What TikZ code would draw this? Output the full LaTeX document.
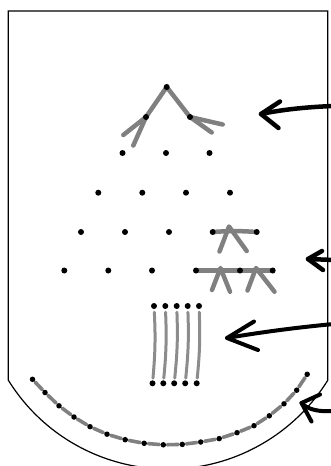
\documentclass[tikz,border=0pt]{standalone}
\usetikzlibrary{backgrounds}
\definecolor{sketchgray}{RGB}{128,128,128}
\definecolor{lightgray2}{RGB}{140,140,140}
\begin{document}
\begin{tikzpicture}[x=1pt,y=-1pt,
  dot/.style={circle,fill=black,inner sep=0pt,minimum size=6pt},
  stroke/.style={draw=sketchgray,line width=4.5pt,line cap=round,line join=round},
  thinstroke/.style={draw=lightgray2,line width=3pt,line cap=round},
  pointer/.style={draw=black,line width=4.5pt,line cap=round,line join=round},
  outline/.style={draw=black,line width=1.2pt}]
\useasboundingbox (0,0) rectangle (330,466);
% outline
\draw[outline] (327.8,380) -- (327.8,11) -- (8.2,11) -- (8.2,380)
  arc[start angle=148.25, end angle=31.75, radius=188];
% triangle of dots
\node[dot] (a1) at (166.7,87) {};
\node[dot] (b1) at (146,117) {};
\node[dot] (b2) at (190,117) {};
\node[dot] (c1) at (122.5,153) {};
\node[dot] (c2) at (166,153) {};
\node[dot] (c3) at (209.5,153) {};
\node[dot] (d1) at (98.3,192.7) {};
\node[dot] (d2) at (142.3,192.7) {};
\node[dot] (d3) at (186,192.7) {};
\node[dot] (d4) at (230,192.7) {};
\node[dot] (e1) at (81,232) {};
\node[dot] (e2) at (125,232) {};
\node[dot] (e3) at (169,232) {};
\node[dot] (e4) at (212.7,232) {};
\node[dot] (e5) at (256.7,232) {};
\node[dot] (f1) at (64.3,270.5) {};
\node[dot] (f2) at (108.3,270.5) {};
\node[dot] (f3) at (152,270.5) {};
\node[dot] (f4) at (196,270.5) {};
\node[dot] (f5) at (240,270.5) {};
\node[dot] (f6) at (272.7,270.5) {};
% columns
\foreach \x [count=\i] in {154,165.3,176.7,187.7,199}
  \node[dot] (t\i) at (\x,306) {};
\foreach \x [count=\i] in {152.5,163.3,174.2,185.2,196.7}
  \node[dot] (u\i) at (\x,383.3) {};
% arc dots
\foreach \p [count=\i] in {(32.5,379.3),(45,392.5),(59,405.8),(74,417),(90,426.7),(107,434.2),(125.2,439.7),(144.2,443.3),(163.3,444.8),(182.3,444.4),(200.7,442),(219.2,438.6),(237,432.7),(254,425.7),(269.3,415.8),(284,403.8),(296.7,390.2),(307.2,374.3)}
  \node[dot,minimum size=5.5pt] (r\i) at \p {};
% free ends of sketch strokes
\coordinate (tl1) at (123.3,135);
\coordinate (tl2) at (133.3,145.5);
\coordinate (tr1) at (222.7,124.5);
\coordinate (tr2) at (211.7,132.5);
\coordinate (m1apex) at (229,226.5);
\coordinate (m1l) at (219.5,251.5);
\coordinate (m1r) at (246.7,251);
\coordinate (n1apex) at (220.5,268);
\coordinate (n1l) at (212,290);
\coordinate (n1r) at (230,291.7);
\coordinate (n2apex) at (256,268);
\coordinate (n2l) at (247.5,290.5);
\coordinate (n2r) at (274.5,291.7);
\begin{pgfonlayer}{background}
  % top figure
  \draw[stroke] (tl1) -- (b1.center) -- (a1.center) -- (b2.center) -- (tr1);
  \draw[stroke] (b1.center) -- (tl2);
  \draw[stroke] (b2.center) -- (tr2);
  % middle figures
  \draw[stroke] (e4.center) to[bend left=4] (e5.center);
  \draw[stroke] (m1l) -- (m1apex) -- (m1r);
  \draw[stroke] (f4.center) -- (f5.center) -- (f6.center);
  \draw[stroke] (n1l) -- (n1apex) -- (n1r);
  \draw[stroke] (n2l) -- (n2apex) -- (n2r);
  % columns
  \foreach \i in {1,...,5}
    \draw[thinstroke,shorten <=3pt,shorten >=2pt] (t\i) to[bend left=4] (u\i);
  % arc
  \foreach \i [evaluate=\i as \j using int(\i+1)] in {1,...,17}
    \draw[stroke,line width=3.6pt,shorten <=1pt,shorten >=1pt] (r\i) -- (r\j);
\end{pgfonlayer}
% pointers
\coordinate (p1s) at (334,106);
\coordinate (p1t) at (261,114);
\coordinate (p1a) at (280,101.5);
\coordinate (p1b) at (278.5,128);
\draw[pointer] (p1s) .. controls (305,107) and (280,110) .. (p1t);
\draw[pointer] (p1a) -- (p1t) -- (p1b);
\coordinate (p2s) at (334,260);
\coordinate (p2t) at (308,259);
\coordinate (p2a) at (322,251);
\coordinate (p2b) at (323,270);
\draw[pointer] (p2s) -- (p2t);
\draw[pointer] (p2a) -- (p2t) -- (p2b);
\coordinate (p3s) at (334,324);
\coordinate (p3t) at (227,338);
\coordinate (p3a) at (254,321.5);
\coordinate (p3b) at (258,350);
\draw[pointer,line width=4pt] (p3s) .. controls (290,328) and (250,334) .. (p3t);
\draw[pointer,line width=4pt] (p3a) -- (p3t) -- (p3b);
\coordinate (p4s) at (334,411);
\coordinate (p4t) at (301.5,403);
\coordinate (p4a) at (320,394.5);
\coordinate (p4b) at (311.5,421.5);
\draw[pointer,line width=4pt] (p4s) .. controls (320,412) and (308,410) .. (p4t);
\draw[pointer,line width=4pt] (p4a) -- (p4t) -- (p4b);
\end{tikzpicture}
\end{document}
